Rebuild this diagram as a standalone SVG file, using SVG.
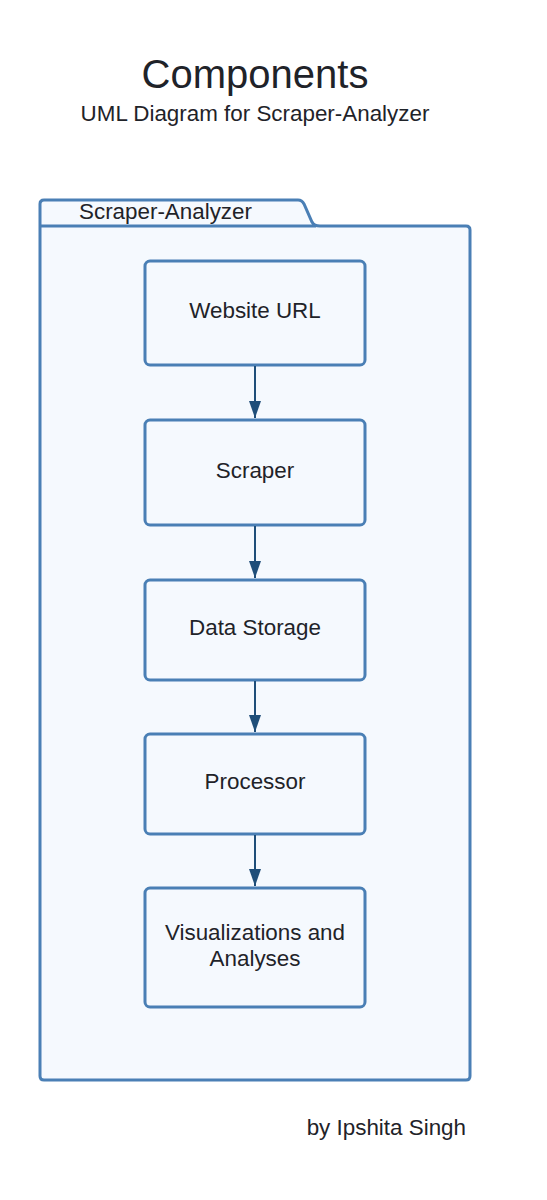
<svg xmlns="http://www.w3.org/2000/svg" width="547" height="1200" viewBox="0 0 547 1200">
<style>
text{font-family:"Liberation Sans",Arial,sans-serif;fill:#1f2329}
.box{fill:#f5f9fe;stroke:#4a7fb5;stroke-width:3}
.lbl{font-size:22.4px;text-anchor:middle}
.conn{stroke:#1f4e79;stroke-width:2;fill:none}
</style>
<defs>
<marker id="ah" markerWidth="17" markerHeight="12" refX="17" refY="6" orient="auto" markerUnits="userSpaceOnUse" viewBox="0 0 17 12">
<path d="M0,0 L17,6 L0,12 z" fill="#1f4e79"/>
</marker>
</defs>
<rect width="547" height="1200" fill="#ffffff"/>
<text x="255" y="88" font-size="40" text-anchor="middle">Components</text>
<text x="255" y="121" font-size="22.4" text-anchor="middle">UML Diagram for Scraper-Analyzer</text>
<g id="package">
<path class="box" d="M44,200 L298,200 Q302,200 304,204 L312,222 Q314,226 320,226 L466,226 Q470,226 470,230 L470,1076 Q470,1080 466,1080 L44,1080 Q40,1080 40,1076 L40,204 Q40,200 44,200 Z"/>
<line x1="40" y1="226" x2="316" y2="226" stroke="#4a7fb5" stroke-width="3"/>
<text x="79" y="219" font-size="22.4">Scraper-Analyzer</text>
</g>
<g id="n1"><rect class="box" x="145" y="261" width="220" height="104" rx="5"/><text class="lbl" x="255" y="318">Website URL</text></g>
<g id="n2"><rect class="box" x="145" y="420" width="220" height="105" rx="5"/><text class="lbl" x="255" y="478">Scraper</text></g>
<g id="n3"><rect class="box" x="145" y="580" width="220" height="100" rx="5"/><text class="lbl" x="255" y="635">Data Storage</text></g>
<g id="n4"><rect class="box" x="145" y="734" width="220" height="100" rx="5"/><text class="lbl" x="255" y="789">Processor</text></g>
<g id="n5"><rect class="box" x="145" y="888" width="220" height="119" rx="5"/><text class="lbl" x="255" y="940">Visualizations and</text><text class="lbl" x="255" y="966">Analyses</text></g>
<g id="connectors">
<line class="conn" x1="255" y1="366" x2="255" y2="418" marker-end="url(#ah)"/>
<line class="conn" x1="255" y1="526" x2="255" y2="578" marker-end="url(#ah)"/>
<line class="conn" x1="255" y1="681" x2="255" y2="732" marker-end="url(#ah)"/>
<line class="conn" x1="255" y1="835" x2="255" y2="886" marker-end="url(#ah)"/>
</g>
<text x="466" y="1135" font-size="22.4" text-anchor="end">by Ipshita Singh</text>
</svg>
